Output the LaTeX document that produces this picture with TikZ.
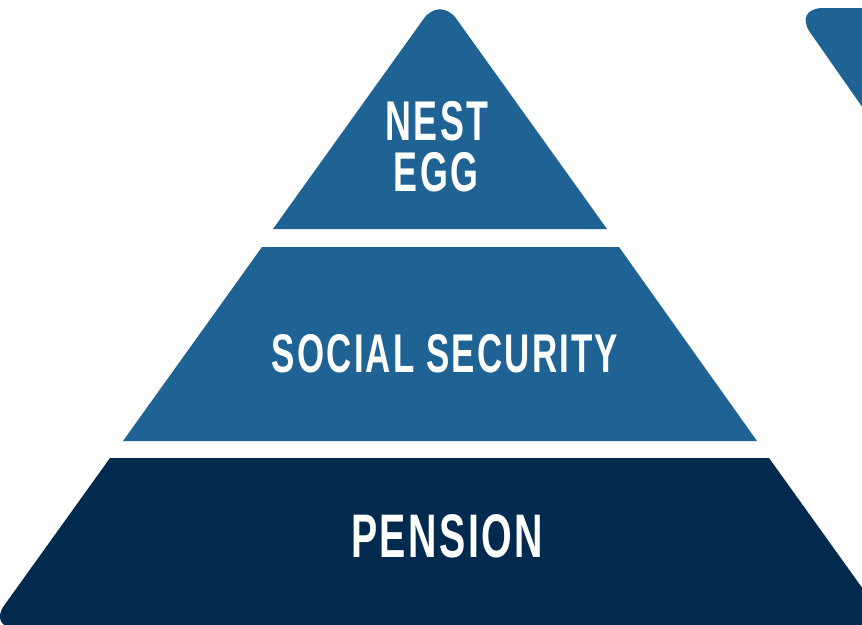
\documentclass[tikz,border=0pt]{standalone}
\usepackage{fontspec}
\newfontfamily\tierfont{Liberation Sans}[FakeStretch=0.64,LetterSpace=4]
\definecolor{tierblue}{RGB}{31,99,148}
\definecolor{tiernavy}{RGB}{2,42,78}
\tikzset{tierlabel/.style={text=white,inner sep=0pt,anchor=base,font=\tierfont\bfseries\fontsize{#1}{#1}\selectfont}}

\begin{document}
\begin{tikzpicture}[x=1pt,y=-1pt,line join=round]
\useasboundingbox (0,0) rectangle (862,624);
\clip (0,0) rectangle (862,624);
% tier corners
\coordinate (top) at (440,-4);
\coordinate (a1) at (273,229);
\coordinate (a2) at (607,229);
\coordinate (b1) at (262,247);
\coordinate (b2) at (619,247);
\coordinate (b3) at (757,441);
\coordinate (b4) at (123,441);
\coordinate (c1) at (110,458);
\coordinate (c2) at (769,458);
\coordinate (c3) at (891,628);
\coordinate (c4) at (-12,628);
% next pyramid, upside down
\coordinate (d1) at (793,8);
\coordinate (d2) at (900,8);
\coordinate (d3) at (900,161);
\fill[tierblue] (a1) [rounded corners=28pt] -- (top) [sharp corners] -- (a2) -- cycle;
\fill[tierblue] (b1) -- (b2) -- (b3) -- (b4) -- cycle;
\fill[tiernavy] (c1) -- (c2) -- (c3) [rounded corners=28pt] -- (c4) [sharp corners] -- cycle;
\fill[tierblue] (d2) [rounded corners=30pt] -- (d1) [sharp corners] -- (d3) -- cycle;
\node[tierlabel=56] (nest) at (437,140) {NEST};
\node[tierlabel=56] (egg) at (436,191) {EGG};
\node[tierlabel=54.5] (social) at (445,372) {SOCIAL SECURITY};
\node[tierlabel=61.5] (pension) at (447,557) {PENSION};
\end{tikzpicture}
\end{document}
